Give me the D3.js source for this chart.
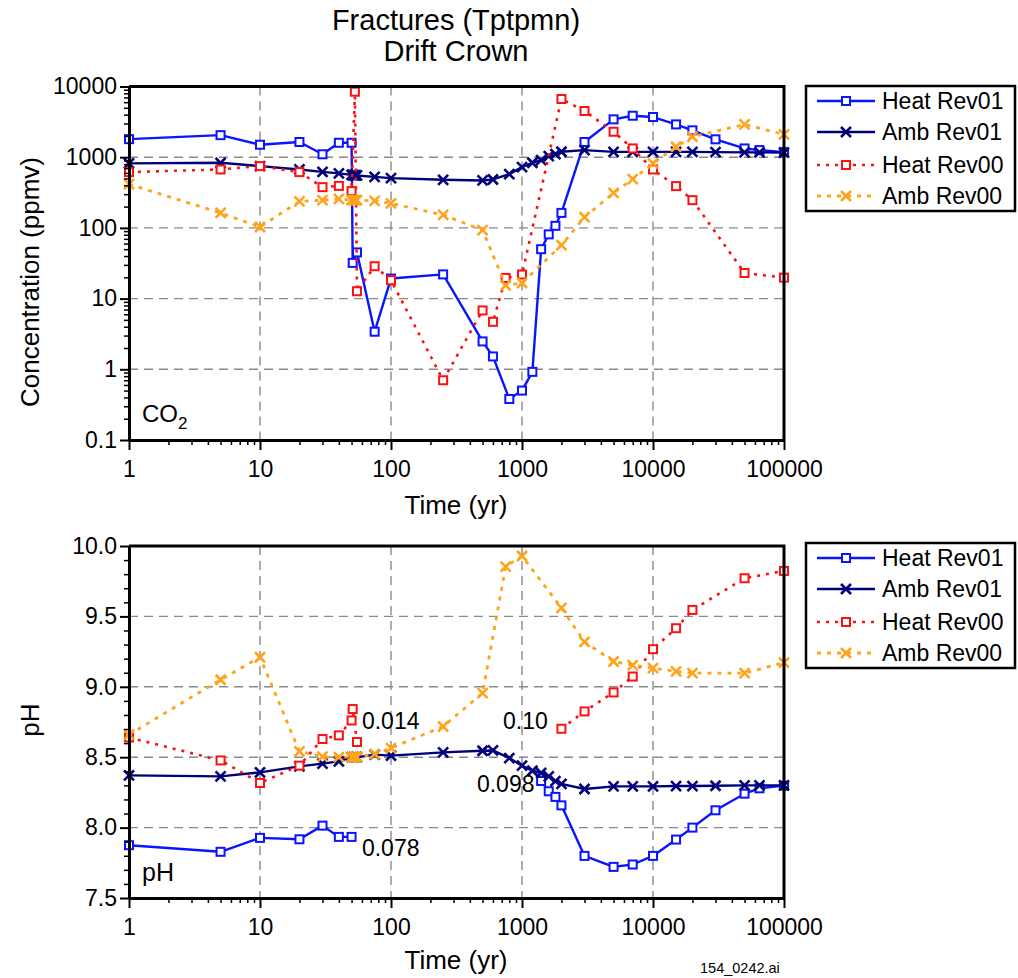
<!DOCTYPE html>
<html><head><meta charset="utf-8">
<script src="https://cdn.jsdelivr.net/npm/d3@7"></script>
<style>
body{margin:0;background:#fff}
svg{display:block}
text{font-family:"Liberation Sans",Arial,Helvetica,sans-serif;fill:#000}
</style>
</head><body>
<svg id="c" width="1018" height="978"></svg>
<script>
// ---------------- DATA ----------------
const xTickValues = [1, 10, 100, 1000, 10000, 100000];
const xTickLabels = ["1", "10", "100", "1000", "10000", "100000"];
const co2TickValues = [0.1, 1, 10, 100, 1000, 10000];
const co2TickLabels = ["0.1", "1", "10", "100", "1000", "10000"];
const phTickValues = [7.5, 8.0, 8.5, 9.0, 9.5, 10.0];
const phTickLabels = ["7.5", "8.0", "8.5", "9.0", "9.5", "10.0"];
const seriesNames = ["Heat Rev01", "Amb Rev01", "Heat Rev00", "Amb Rev00"];

// CO2 (ppmv)
const co2HeatRev01Time = [1,5,10,20,30,40,50,51,55,75,100,250,500,600,800,1000,1200,1400,1600,1800,2000,3000,5000,7000,10000,15000,20000,30000,50000,65000,100000];
const co2HeatRev01 = [1800,2050,1500,1640,1100,1600,1600,32,45,3.4,19.2,22,2.48,1.52,0.38,0.50,0.92,50,81,107,163,1640,3430,3860,3700,2910,2400,1790,1330,1260,1180];

const co2AmbRev01Time = [1,5,10,20,30,40,50,51,52,53,54,55,75,100,250,500,600,800,1000,1200,1400,1600,1800,2000,3000,5000,7000,10000,15000,20000,30000,50000,65000,100000];
const co2AmbRev01 = [817,833,748,671,621,590,562,560,558,556,554,552,527,506,479,469,484,576,724,834,910,1037,1107,1193,1260,1190,1190,1190,1190,1190,1180,1170,1170,1160];

const co2HeatRev00Time = [1,5,10,20,30,40,50,53,55,75,100,250,500,600,750,1000,2000,3000,5000,7000,10000,15000,20000,50000,100000];
const co2HeatRev00 = [615,671,748,615,377,393,331,8440,12.7,28.7,18.2,0.70,6.8,4.7,19.6,21.9,6650,4500,2290,1330,671,390,247,23,19.8];

const co2AmbRev00Time = [1,5,10,20,30,40,50,52,54,55,75,100,250,500,750,1000,2000,3000,5000,7000,10000,15000,20000,50000,100000];
const co2AmbRev00 = [416,163,103,237,247,257,247,247,247,247,241,222,153,93,15.4,16.6,57,142,313,490,817,1405,1945,2910,2100];

// pH (null = break in the curve)
const phHeatRev01Time = [1,5,10,20,30,40,50,null,1400,1600,1800,2000,3000,5000,7000,10000,15000,20000,30000,50000,65000,100000];
const phHeatRev01 = [7.875,7.828,7.927,7.917,8.014,7.934,7.934,null,8.331,8.258,8.218,8.158,7.799,7.721,7.738,7.799,7.915,8.0,8.123,8.241,8.279,8.298];

const phAmbRev01Time = [1,5,10,20,30,40,50,52,54,55,75,100,250,500,600,800,1000,1200,1400,1600,1800,2000,3000,5000,7000,10000,15000,20000,30000,50000,65000,100000];
const phAmbRev01 = [8.371,8.364,8.392,8.435,8.454,8.470,8.50,8.50,8.50,8.50,8.518,8.511,8.534,8.546,8.548,8.494,8.44,8.404,8.388,8.364,8.33,8.31,8.274,8.293,8.293,8.293,8.295,8.295,8.297,8.30,8.30,8.30];

const phHeatRev00Time = [1,5,10,20,30,40,50,51,55,null,2000,3000,5000,7000,10000,15000,20000,50000,100000];
const phHeatRev00 = [8.64,8.477,8.317,8.44,8.629,8.655,8.761,8.842,8.608,null,8.702,8.825,8.96,9.073,9.267,9.416,9.546,9.771,9.823];

const phAmbRev00Time = [1,5,10,20,30,40,50,52,54,55,75,100,250,500,750,1000,2000,3000,5000,7000,10000,15000,20000,50000,100000];
const phAmbRev00 = [8.66,9.05,9.21,8.541,8.504,8.50,8.50,8.50,8.50,8.50,8.523,8.565,8.718,8.955,9.853,9.929,9.56,9.319,9.18,9.154,9.133,9.109,9.097,9.097,9.172];

// annotations on pH panel
const phNotes = ["0.014", "0.10", "0.098", "0.078"];
const phNoteTime = [60, 716, 453, 60];
const phNoteValue = [8.76, 8.76, 8.31, 7.86];

// ---------------- STYLES ----------------
const styles = [
  {color:"#0a14ff", dash:null, width:2.4, marker:"square"},
  {color:"#00007a", dash:null, width:2.4, marker:"x"},
  {color:"#ff1010", dash:"3,6", width:2.6, marker:"square"},
  {color:"#ffa31a", dash:"4,6", width:2.8, marker:"x"}
];

const svg = d3.select("#c");
const X0 = 129, X1 = 784;
const x = d3.scaleLog().domain([1, 1e5]).range([X0, X1]);

function minorLog(lo, hi){
  const out=[];
  for(let d=lo; d<hi; d*=10) for(let k=2;k<=9;k++) out.push(+(d*k).toPrecision(6));
  return out;
}

function drawMarker(g, kind, cx, cy, color){
  if(kind==="square"){
    g.append("rect").attr("x",cx-4).attr("y",cy-4).attr("width",8).attr("height",8)
      .attr("fill","#fff").attr("stroke",color).attr("stroke-width",2);
  } else {
    const s=5;
    g.append("path").attr("d",`M${cx-s},${cy-s}L${cx+s},${cy+s}M${cx-s},${cy+s}L${cx+s},${cy-s}`)
      .attr("stroke",color).attr("stroke-width",2.6).attr("fill","none");
  }
}

function panel(opt){
  const {y, top, bottom, majors, labels, minors, series, legendTop} = opt;
  const g = svg.append("g");
  // grid
  const grid = g.append("g").attr("stroke","#8a8a8a").attr("stroke-width",1.4).attr("stroke-dasharray","9,6");
  xTickValues.slice(1,-1).forEach(v=>{
    grid.append("line").attr("x1",x(v)).attr("x2",x(v)).attr("y1",top).attr("y2",bottom);
  });
  majors.slice(1,-1).forEach(v=>{
    grid.append("line").attr("x1",X0).attr("x2",X1).attr("y1",y(v)).attr("y2",y(v));
  });

  // series
  series.forEach((s,i)=>{
    const st = styles[i];
    const pts = s.t.map((t,j)=>({t, v:s.v[j]}));
    const line = d3.line().defined(d=>d.t!=null && d.v!=null).x(d=>x(d.t)).y(d=>y(d.v));
    g.append("path").attr("d",line(pts)).attr("fill","none").attr("stroke",st.color)
      .attr("stroke-width",st.width).attr("stroke-dasharray",st.dash)
      .attr("stroke-linejoin","round");
    const mg = g.append("g");
    pts.filter(d=>d.t!=null && d.v!=null).forEach(d=>drawMarker(mg, st.marker, x(d.t), y(d.v), st.color));
  });

  // axes
  const ax = g.append("g").attr("transform",`translate(${X0},0)`)
    .call(d3.axisLeft(y).tickValues(majors).tickSize(9).tickSizeOuter(0).tickPadding(3)
      .tickFormat((d,i)=>labels[i]));
  ax.select(".domain").attr("stroke-width",3);
  ax.selectAll(".tick line").attr("stroke-width",2);
  ax.selectAll("text").attr("font-size",23).attr("font-family","Liberation Sans, Arial, sans-serif");
  const axm = g.append("g").attr("transform",`translate(${X0},0)`)
    .call(d3.axisLeft(y).tickValues(minors).tickSize(5).tickSizeOuter(0).tickFormat(""));
  axm.select(".domain").remove();
  axm.selectAll(".tick line").attr("stroke-width",1.5);

  const bx = g.append("g").attr("transform",`translate(0,${bottom})`)
    .call(d3.axisBottom(x).tickValues(xTickValues).tickSize(10).tickSizeOuter(0).tickPadding(11)
      .tickFormat((d,i)=>xTickLabels[i]));
  bx.select(".domain").attr("stroke-width",3);
  bx.selectAll(".tick line").attr("stroke-width",2);
  bx.selectAll("text").attr("font-size",23).attr("font-family","Liberation Sans, Arial, sans-serif");
  const bxm = g.append("g").attr("transform",`translate(0,${bottom})`)
    .call(d3.axisBottom(x).tickValues(minorLog(1,1e5)).tickSize(5).tickSizeOuter(0).tickFormat(""));
  bxm.select(".domain").remove();
  bxm.selectAll(".tick line").attr("stroke-width",1.5);

  // frame top/right
  g.append("path").attr("d",`M${X0},${top}H${X1}V${bottom}`).attr("fill","none")
    .attr("stroke","#000").attr("stroke-width",3);

  // legend
  const lg = g.append("g");
  lg.append("rect").attr("x",806).attr("y",legendTop).attr("width",209).attr("height",125)
    .attr("fill","#fff").attr("stroke","#000").attr("stroke-width",2.5);
  const rows=[15,46,79,110];
  seriesNames.forEach((n,i)=>{
    const st=styles[i], yy=legendTop+rows[i];
    lg.append("line").attr("x1",817).attr("x2",875).attr("y1",yy).attr("y2",yy)
      .attr("stroke",st.color).attr("stroke-width",st.width).attr("stroke-dasharray",st.dash);
    drawMarker(lg, st.marker, 846, yy, st.color);
    lg.append("text").attr("x",882).attr("y",yy).attr("dy","0.36em").attr("font-size",23).text(n);
  });
  return g;
}

const yTop = d3.scaleLog().domain([0.1, 1e4]).range([440, 86.5]);
const yBot = d3.scaleLinear().domain([7.5, 10]).range([898, 546]);

panel({y:yTop, top:86.5, bottom:440, majors:co2TickValues, labels:co2TickLabels,
  minors:minorLog(0.1,1e4), legendTop:86,
  series:[{t:co2HeatRev01Time,v:co2HeatRev01},{t:co2AmbRev01Time,v:co2AmbRev01},
          {t:co2HeatRev00Time,v:co2HeatRev00},{t:co2AmbRev00Time,v:co2AmbRev00}]});

const phMinors = d3.range(76,100).filter(k=>k%5!==0).map(k=>k/10);
panel({y:yBot, top:546, bottom:898, majors:phTickValues, labels:phTickLabels,
  minors:phMinors, legendTop:543,
  series:[{t:phHeatRev01Time,v:phHeatRev01},{t:phAmbRev01Time,v:phAmbRev01},
          {t:phHeatRev00Time,v:phHeatRev00},{t:phAmbRev00Time,v:phAmbRev00}]});

phNotes.forEach((n,i)=>{
  svg.append("text").attr("x",x(phNoteTime[i])).attr("y",yBot(phNoteValue[i])).attr("dy","0.36em")
    .attr("font-size",23).text(n);
});

// titles and labels
svg.append("text").attr("x",456).attr("y",20).attr("dy","0.36em").attr("text-anchor","middle")
  .attr("font-size",29).text("Fractures (Tptpmn)");
svg.append("text").attr("x",456).attr("y",51).attr("dy","0.36em").attr("text-anchor","middle")
  .attr("font-size",29).text("Drift Crown");
svg.append("text").attr("transform","translate(30,282) rotate(-90)").attr("dy","0.36em")
  .attr("text-anchor","middle").attr("font-size",26).text("Concentration (ppmv)");
svg.append("text").attr("transform","translate(30,720) rotate(-90)").attr("dy","0.36em")
  .attr("text-anchor","middle").attr("font-size",26).text("pH");
svg.append("text").attr("x",456).attr("y",505).attr("dy","0.36em").attr("text-anchor","middle")
  .attr("font-size",26).text("Time (yr)");
svg.append("text").attr("x",456).attr("y",960).attr("dy","0.36em").attr("text-anchor","middle")
  .attr("font-size",26).text("Time (yr)");
const co2 = svg.append("text").attr("x",142).attr("y",413).attr("dy","0.36em").attr("font-size",24);
co2.append("tspan").text("CO");
co2.append("tspan").attr("font-size",17).attr("dy","0.45em").text("2");
svg.append("text").attr("x",142).attr("y",872).attr("dy","0.36em").attr("font-size",25).text("pH");
svg.append("text").attr("x",700).attr("y",968).attr("dy","0.36em").attr("font-size",14.5).text("154_0242.ai");
</script>
</body></html>
